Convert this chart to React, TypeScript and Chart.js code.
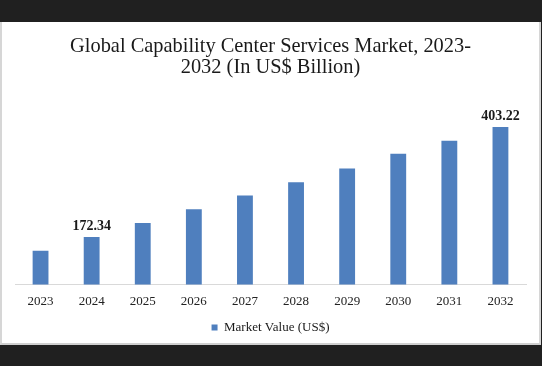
import React, { useEffect, useRef } from "react";
import { Chart, registerables } from "chart.js";

Chart.register(...registerables);

const categories = ["2023", "2024", "2025", "2026", "2027", "2028", "2029", "2030", "2031", "2032"];
const marketValues = [143.5, 172.34, 201.8, 230.5, 259.3, 287.4, 316.2, 347.2, 374.6, 403.22];
const labelledIndices = [1, 9];
const titleLines = ["Global Capability Center Services Market, 2023-", "2032 (In US$ Billion)"];
const seriesName = "Market Value (US$)";

const SERIF = "'Liberation Serif', 'Times New Roman', serif";
const BAR_COLOR = "#4f7fbe";

const valueLabels = {
  id: "valueLabels",
  afterDatasetsDraw(chart: any) {
    const meta = chart.getDatasetMeta(0);
    const ctx = chart.ctx;
    ctx.save();
    ctx.font = `bold 14px ${SERIF}`;
    ctx.fillStyle = "#1a1a1a";
    ctx.textAlign = "center";
    ctx.textBaseline = "middle";
    labelledIndices.forEach((i) => {
      const el = meta.data[i];
      ctx.fillText(String(marketValues[i]), el.x, el.y - 11);
    });
    ctx.restore();
  },
};

export default function App() {
  const canvasRef = useRef<HTMLCanvasElement | null>(null);

  useEffect(() => {
    if (!canvasRef.current) return;
    const chart = new Chart(canvasRef.current, {
      type: "bar",
      data: {
        labels: categories,
        datasets: [
          {
            label: seriesName,
            data: marketValues,
            backgroundColor: BAR_COLOR,
            borderWidth: 0,
            barPercentage: 0.62,
            categoryPercentage: 0.5,
          },
        ],
      },
      options: {
        responsive: false,
        animation: false,
        devicePixelRatio: 1,
        layout: { padding: { left: 15, right: 16, top: 0, bottom: 22 } },
        plugins: {
          title: {
            display: true,
            text: titleLines,
            color: "#1a1a1a",
            font: { family: SERIF, size: 20.4, weight: "normal", lineHeight: 1.045 },
            padding: { top: 36, bottom: 11 },
          },
          legend: {
            display: true,
            position: "bottom",
            labels: {
              color: "#1a1a1a",
              font: { family: SERIF, size: 13 },
              boxWidth: 6,
              boxHeight: 6,
              padding: 3,
            },
          },
          tooltip: { enabled: false },
        },
        scales: {
          x: {
            grid: { display: false, drawTicks: false },
            border: { display: true, color: "#d9d9d9", width: 1 },
            ticks: { color: "#222", font: { family: SERIF, size: 13 }, padding: 9 },
          },
          y: {
            display: false,
            min: 72.9,
            max: 481.8,
          },
        },
      },
      plugins: [valueLabels],
    });
    return () => chart.destroy();
  }, []);

  return (
    <div style={{ position: "fixed", left: 0, top: 0, width: 542, height: 366, background: "#202020", overflow: "hidden" }}>
      <div
        style={{
          position: "absolute",
          left: 0,
          top: 22,
          width: 541,
          height: 323,
          boxSizing: "border-box",
          background: "#ffffff",
          borderLeft: "2px solid #d6d6d6",
          borderRight: "2px solid #d6d6d6",
          borderBottom: "2px solid #cfcfcf",
        }}
      />
      <canvas ref={canvasRef} width={542} height={366} style={{ position: "absolute", left: 0, top: 0 }} />
    </div>
  );
}
